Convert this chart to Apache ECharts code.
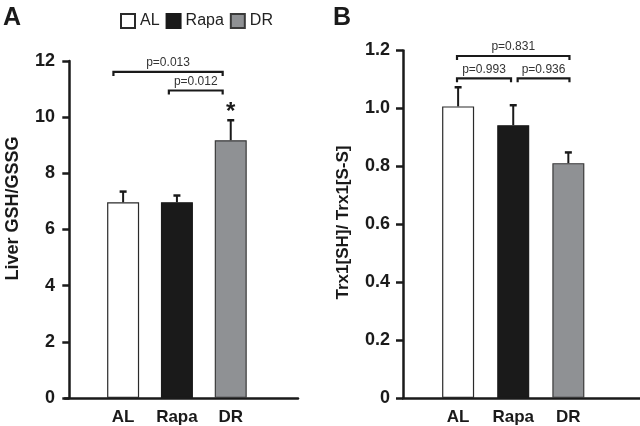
<!DOCTYPE html>
<html>
<head>
<meta charset="utf-8">
<script src="https://cdn.jsdelivr.net/npm/echarts@6.0.0/dist/echarts.min.js"></script>
<style>
  html, body { margin: 0; padding: 0; background: #fff; }
  #main { width: 640px; height: 426px; }
</style>
</head>
<body>
<div id="main"></div>
<script>
  // groups and their slot on the x axis
  const groups = ['AL', 'Rapa', 'DR']
  const slots = [1, 2, 3]

  // panel A: liver GSH/GSSG
  const gshMean = [6.97, 6.97, 9.18]
  const gshErr = [0.38, 0.24, 0.71]
  const gshMarks = ['', '', '*']
  const gshBrackets = [
    [0.82, 2.85, 11.61, 'p=0.013'],
    [1.85, 2.85, 10.95, 'p=0.012']
  ]

  // panel B: Trx1[SH]/Trx1[S-S]
  const trxMean = [1.007, 0.942, 0.811]
  const trxErr = [0.066, 0.069, 0.037]
  const trxMarks = ['', '', '']
  const trxBrackets = [
    [0.98, 3.02, 1.181, 'p=0.831'],
    [0.98, 1.96, 1.104, 'p=0.993'],
    [2.08, 3.02, 1.104, 'p=0.936']
  ]

  const barColors = ['#ffffff', '#1a1a1a', '#8f9194']
  const barBorders = ['#2a2a2a', '#1a1a1a', '#3a3a3a']
  const font = 'Liberation Sans, Arial, Helvetica, sans-serif'
  const ink = '#1a1a1a'

  let myChart = echarts.init(document.getElementById('main'))

  let xAxisOf = (min, max, idx) => ({
    type: 'value',
    gridIndex: idx,
    min: min,
    max: max,
    splitLine: { show: false },
    axisTick: { show: false },
    axisLine: { lineStyle: { color: ink, width: 2.5 } },
    axisLabel: {
      customValues: slots,
      formatter: v => groups[Math.round(v) - 1] || '',
      fontFamily: font,
      fontWeight: 'bold',
      fontSize: 17,
      color: ink,
      margin: 11
    }
  })

  let yAxisOf = (max, step, idx, fmt, margin) => ({
    type: 'value',
    gridIndex: idx,
    min: 0,
    max: max,
    interval: step,
    splitLine: { show: false },
    axisLine: { show: true, lineStyle: { color: ink, width: 2.5 } },
    axisTick: { show: true, length: 7, lineStyle: { color: ink, width: 2.5 } },
    axisLabel: {
      formatter: fmt,
      fontFamily: font,
      fontWeight: 'bold',
      fontSize: 18,
      color: ink,
      margin: margin
    }
  })

  let barSeries = (means, idx) => groups.map((g, i) => ({
    name: g,
    type: 'bar',
    xAxisIndex: idx,
    yAxisIndex: idx,
    barWidth: 32,
    barGap: '-100%',
    itemStyle: { color: barColors[i], borderColor: barBorders[i], borderWidth: 1.2 },
    data: [[slots[i], means[i]]]
  }))

  let errorSeries = (means, errs, marks, idx) => ({
    type: 'custom',
    xAxisIndex: idx,
    yAxisIndex: idx,
    z: 5,
    renderItem: (params, api) => {
      let x = api.value(0)
      let m = api.value(1)
      let e = api.value(2)
      let base = api.coord([x, m])
      let top = api.coord([x, m + e])
      let children = [
        { type: 'line', shape: { x1: base[0], y1: base[1], x2: top[0], y2: top[1] }, style: { stroke: ink, lineWidth: 2 } },
        { type: 'line', shape: { x1: top[0] - 3.5, y1: top[1], x2: top[0] + 3.5, y2: top[1] }, style: { stroke: ink, lineWidth: 2.5 } }
      ]
      let mark = marks[params.dataIndex]
      if (mark) {
        children.push({
          type: 'text',
          x: top[0],
          y: top[1] + 4,
          style: { text: mark, font: 'bold 24px ' + font, fill: ink, align: 'center', verticalAlign: 'bottom' }
        })
      }
      return { type: 'group', children: children }
    },
    data: slots.map((s, i) => [s, means[i], errs[i]])
  })

  let bracketSeries = (brackets, idx) => ({
    type: 'custom',
    xAxisIndex: idx,
    yAxisIndex: idx,
    z: 6,
    renderItem: (params, api) => {
      let a = api.coord([api.value(0), api.value(2)])
      let b = api.coord([api.value(1), api.value(2)])
      let label = brackets[params.dataIndex][3]
      return {
        type: 'group',
        children: [
          {
            type: 'polyline',
            shape: { points: [[a[0], a[1] + 4], [a[0], a[1]], [b[0], b[1]], [b[0], b[1] + 4]] },
            style: { stroke: ink, lineWidth: 2.2, fill: null }
          },
          {
            type: 'text',
            x: (a[0] + b[0]) / 2,
            y: a[1] - 3,
            style: { text: label, font: '12px ' + font, fill: '#333', align: 'center', verticalAlign: 'bottom' }
          }
        ]
      }
    },
    data: brackets.map(b => [b[0], b[1], b[2]])
  })

  let option = {
    animation: false,
    backgroundColor: '#fff',
    textStyle: { fontFamily: font },
    legend: {
      data: groups,
      left: 115,
      top: 8,
      icon: 'rect',
      itemWidth: 14,
      itemHeight: 14,
      itemGap: 6,
      textStyle: { fontSize: 16, color: '#222', fontFamily: font }
    },
    grid: [
      { left: 65, top: 61, width: 233, height: 339 },
      { left: 403, top: 50.5, right: 0, height: 348.5 }
    ],
    xAxis: [
      xAxisOf(-0.08, 4.25, 0),
      xAxisOf(0, 4.3, 1)
    ],
    yAxis: [
      yAxisOf(12, 2, 0, v => String(v), 10),
      yAxisOf(1.2, 0.2, 1, v => (v === 0 ? '0' : v.toFixed(1)), 13)
    ],
    graphic: [
      { type: 'text', left: 3, top: 6, style: { text: 'A', font: 'bold 25px ' + font, fill: ink } },
      { type: 'text', left: 333, top: 6, style: { text: 'B', font: 'bold 25px ' + font, fill: ink } },
      { type: 'text', x: 13.5, y: 208.5, rotation: Math.PI / 2, style: { text: 'Liver GSH/GSSG', font: 'bold 18px ' + font, fill: ink, align: 'center', verticalAlign: 'middle' } },
      { type: 'text', x: 343.5, y: 222.5, rotation: Math.PI / 2, style: { text: 'Trx1[SH]/ Trx1[S-S]', font: 'bold 17px ' + font, fill: ink, align: 'center', verticalAlign: 'middle' } }
    ],
    series: [].concat(
      barSeries(gshMean, 0),
      barSeries(trxMean, 1),
      [errorSeries(gshMean, gshErr, gshMarks, 0), errorSeries(trxMean, trxErr, trxMarks, 1)],
      [bracketSeries(gshBrackets, 0), bracketSeries(trxBrackets, 1)]
    )
  }

  myChart.setOption(option)
</script>
</body>
</html>
